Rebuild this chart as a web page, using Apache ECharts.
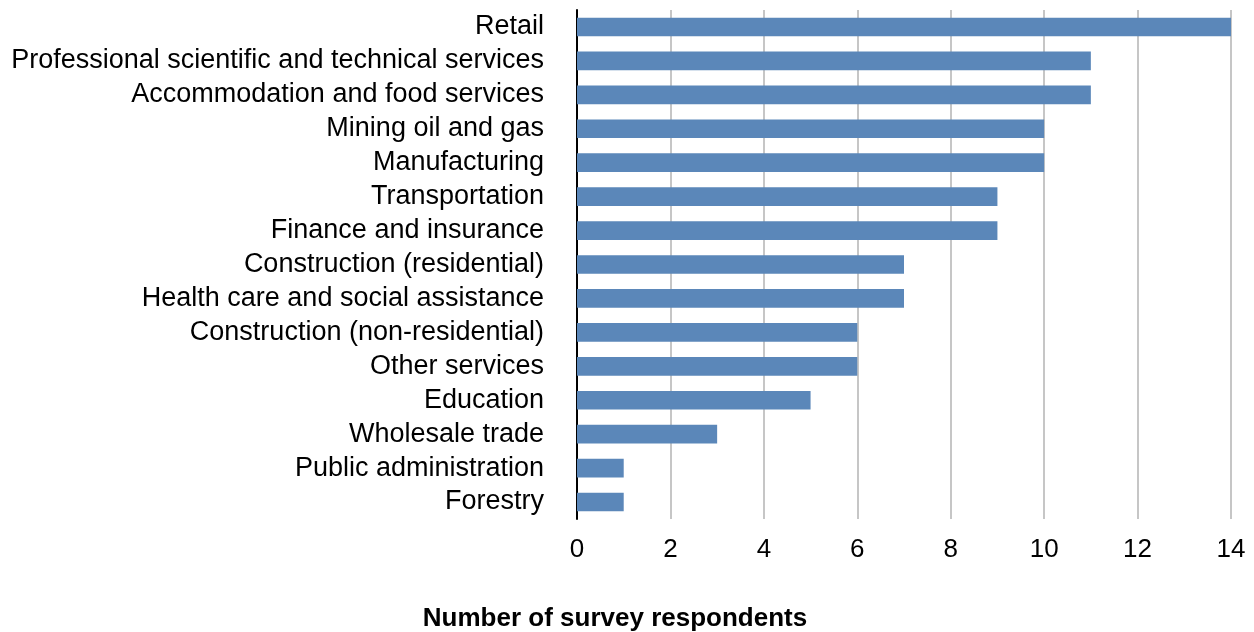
<!DOCTYPE html>
<html>
<head>
<meta charset="utf-8">
<script src="https://cdn.jsdelivr.net/npm/echarts@6/dist/echarts.min.js"></script>
<style>
  html, body { margin: 0; padding: 0; background: #fff; }
  #chart { width: 1254px; height: 632px; }
</style>
</head>
<body>
<div id="chart"></div>
<script>
// Categories, top to bottom as in the picture
const sectors = [
  'Retail',
  'Professional scientific and technical services',
  'Accommodation and food services',
  'Mining oil and gas',
  'Manufacturing',
  'Transportation',
  'Finance and insurance',
  'Construction (residential)',
  'Health care and social assistance',
  'Construction (non-residential)',
  'Other services',
  'Education',
  'Wholesale trade',
  'Public administration',
  'Forestry'
];
const respondents = [14, 11, 11, 10, 10, 9, 9, 7, 7, 6, 6, 5, 3, 1, 1];
const axisTitle = 'Number of survey respondents';

const font = '"Liberation Sans", Arial, Helvetica, sans-serif';

const chart = echarts.init(document.getElementById('chart'));
chart.setOption({
  animation: false,
  grid: { left: 577, right: 23, top: 10, bottom: 113 },
  // axis title sits centred under the whole figure, not under the plot
  graphic: [{
    type: 'text',
    x: 615,
    y: 619,
    style: {
      text: axisTitle,
      font: 'bold 26px ' + font,
      fill: '#000',
      textAlign: 'center',
      textVerticalAlign: 'middle'
    }
  }],
  xAxis: {
    type: 'value',
    min: 0,
    max: 14,
    interval: 2,
    axisLine: { show: false },
    axisTick: { show: false },
    axisLabel: { fontFamily: font, fontSize: 26, color: '#000', margin: 18 },
    splitLine: { show: true, lineStyle: { color: '#c6c6c6', width: 2 } }
  },
  yAxis: {
    type: 'category',
    inverse: true,
    data: sectors,
    axisLine: { show: true, lineStyle: { color: '#000', width: 2 } },
    axisTick: { show: false },
    axisLabel: { interval: 0, fontFamily: font, fontSize: 27, color: '#000', margin: 33 }
  },
  series: [{
    type: 'bar',
    data: respondents,
    barWidth: '55%',
    itemStyle: { color: '#5b87b9' }
  }]
});
</script>
</body>
</html>
